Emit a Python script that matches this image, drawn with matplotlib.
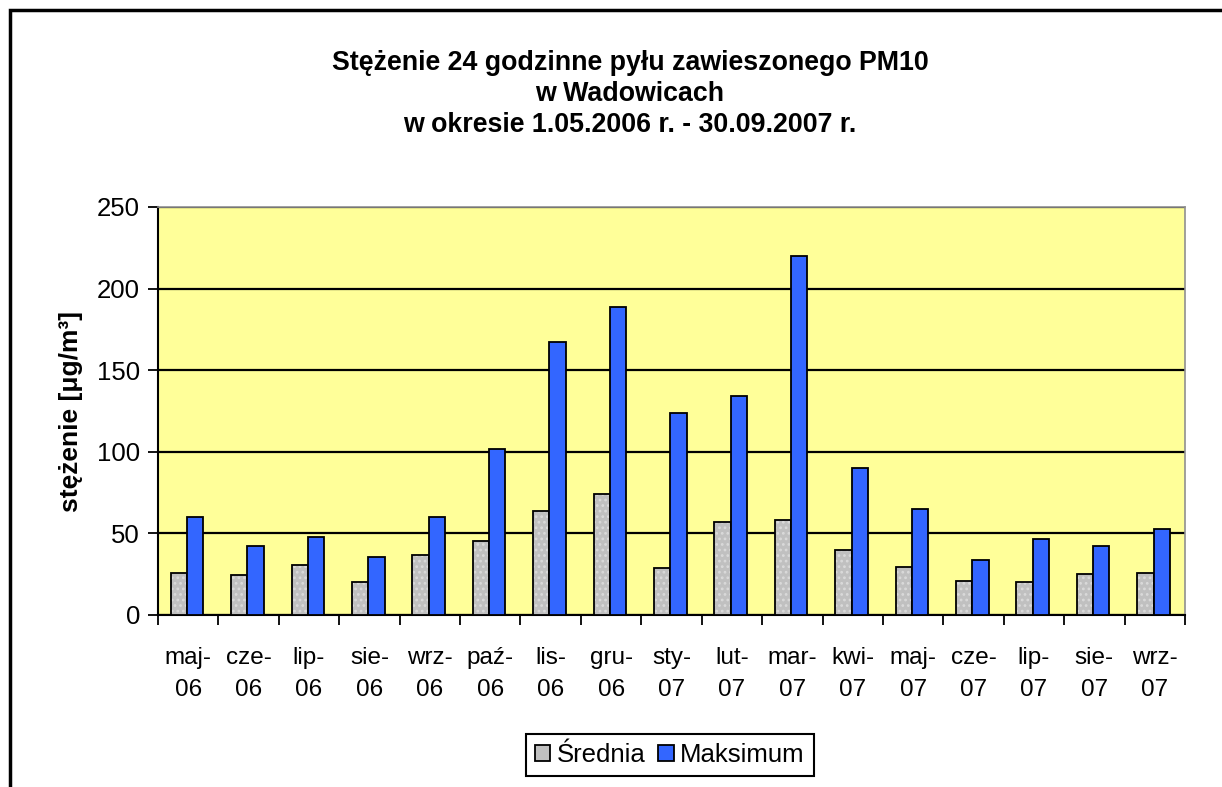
import matplotlib
matplotlib.use("Agg")
import matplotlib.pyplot as plt
import numpy as np
from matplotlib.patches import Rectangle, Patch

categories = ["maj-\n06", "cze-\n06", "lip-\n06", "sie-\n06", "wrz-\n06", "paź-\n06",
              "lis-\n06", "gru-\n06", "sty-\n07", "lut-\n07", "mar-\n07", "kwi-\n07",
              "maj-\n07", "cze-\n07", "lip-\n07", "sie-\n07", "wrz-\n07"]
srednia = [26, 24.5, 30.5, 20, 37, 45.5, 64, 74, 28.5, 57, 58, 40, 29.5, 21, 20, 25, 26]
maksimum = [60, 42, 47.5, 35.5, 60, 102, 167, 189, 124, 134, 220, 90, 65, 33.5, 46.5, 42, 52.5]
yticks = [0, 50, 100, 150, 200, 250]

plt.rcParams['font.family'] = ['Liberation Sans', 'DejaVu Sans']
plt.rcParams['hatch.linewidth'] = 1.2

W, H = 1222, 787
fig = plt.figure(figsize=(W / 100, H / 100), dpi=100)
fig.patch.set_facecolor('white')

# outer chart border (top and left visible, others cropped)
fig.add_artist(Rectangle((10 / W, -0.1), 1.2, 1 - 10 / H + 0.1, transform=fig.transFigure,
                         fill=False, edgecolor='black', linewidth=2.5, zorder=0))

ax = fig.add_axes([158 / W, 1 - 615 / H, (1185 - 158) / W, (615 - 207) / H])
ax.set_facecolor('#FFFF99')

x = np.arange(len(categories))
bw = 0.27
gray_x = x - 0.155
blue_x = x + 0.115

ax.bar(gray_x, srednia, width=bw, color='#C0C0C0', edgecolor='#DADADA', linewidth=0,
       hatch='...', zorder=3)
ax.bar(gray_x, srednia, width=bw, fill=False, edgecolor='black', linewidth=1.3, zorder=4)
ax.bar(blue_x, maksimum, width=bw, color='#3366FF', edgecolor='black', linewidth=1.3, zorder=4)

ax.set_xlim(-0.5, len(categories) - 0.5)
ax.set_ylim(0, 250)
ax.set_yticks(yticks)
ax.yaxis.grid(True, color='black', linewidth=1.6, zorder=1)
ax.set_axisbelow(True)

ax.set_xticks(x)
ax.set_xticklabels(categories, fontsize=17.5, linespacing=1.6)
ax.set_xticks(np.arange(len(categories) + 1) - 0.5, minor=True)
ax.tick_params(axis='x', which='major', length=0, pad=23)
ax.tick_params(axis='x', which='minor', length=7, width=1.3, color='black', direction='out')
ax.tick_params(axis='y', length=7, width=1.3, direction='out', labelsize=18.5, pad=6)

for s in ['top', 'right']:
    ax.spines[s].set_color('#909090')
    ax.spines[s].set_linewidth(1.2)
for s in ['left', 'bottom']:
    ax.spines[s].set_color('black')
    ax.spines[s].set_linewidth(1.5)

ax.set_ylabel('stężenie [μg/m³]', fontsize=19, fontweight='bold', labelpad=10)

fig.text(630 / W, 1 - 94 / H,
         "Stężenie 24 godzinne pyłu zawieszonego PM10\nw Wadowicach\nw okresie 1.05.2006 r. - 30.09.2007 r.",
         ha='center', va='center', fontsize=19.3, fontweight='bold', linespacing=1.25)

handles = [Patch(facecolor='#C0C0C0', edgecolor='black', linewidth=1.3),
           Patch(facecolor='#3366FF', edgecolor='black', linewidth=1.3)]
leg = fig.legend(handles, ['Średnia', 'Maksimum'], loc='center',
                 bbox_to_anchor=(670 / W, 1 - 755 / H), ncol=2, fontsize=18.5,
                 frameon=True, fancybox=False, edgecolor='black', framealpha=1,
                 handlelength=0.6, handleheight=0.6, handletextpad=0.25,
                 columnspacing=0.5, borderpad=0.35, borderaxespad=0)
leg.get_frame().set_linewidth(1.5)

fig.savefig('out.png', dpi=100, facecolor='white')
